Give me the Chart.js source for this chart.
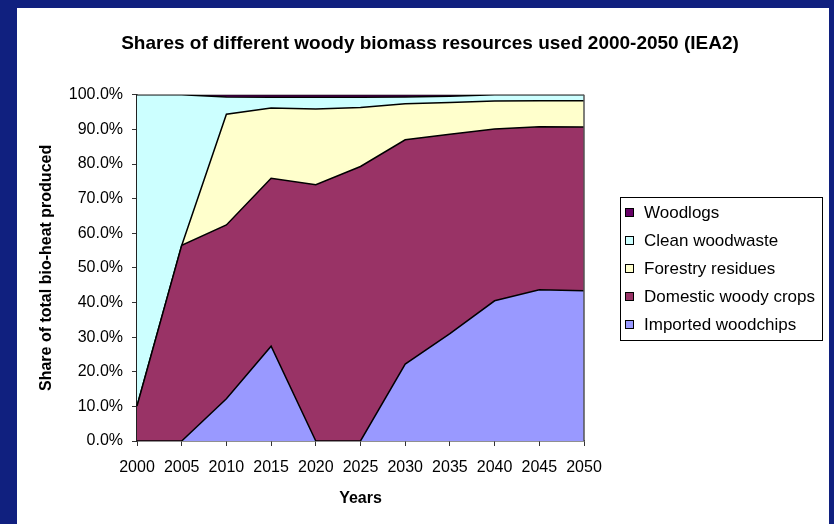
<!DOCTYPE html>
<html lang="en">
<head>
  <meta charset="UTF-8" />
  <title>Woody biomass shares</title>
  <script src="https://cdn.jsdelivr.net/npm/chart.js"></script>
  <style>
    html, body { margin: 0; padding: 0; }
    body { width: 834px; height: 524px; background: #10207f; position: relative; overflow: hidden; }
    .panel { position: absolute; left: 17px; top: 8px; width: 812px; height: 516px; background: #fff; }
  </style>
</head>
<body>
  <div class="panel">
    <canvas id="woodChart" width="812" height="516"></canvas>
  </div>

  <script>
    // values (percent of total bio-heat)
    const years = ["2000", "2005", "2010", "2015", "2020", "2025", "2030", "2035", "2040", "2045", "2050"];
    const importedWoodchips = [0, 0, 12.2, 27.4, 0, 0, 22.2, 31.0, 40.5, 43.7, 43.4];
    const domesticWoodyCrops = [10.1, 56.5, 50.2, 48.5, 74.0, 79.3, 64.8, 57.6, 49.6, 47.1, 47.3];
    const forestryResidues = [0, 0, 32.0, 20.3, 21.9, 17.0, 10.4, 9.2, 8.1, 7.5, 7.6];
    const cleanWoodwaste = [89.9, 43.5, 5.0, 3.1, 3.4, 3.0, 2.0, 1.8, 1.8, 1.7, 1.7];
    const woodlogs = [0, 0, 0.6, 0.7, 0.7, 0.7, 0.6, 0.4, 0, 0, 0];
    const yTicks = [0, 10, 20, 30, 40, 50, 60, 70, 80, 90, 100];

    const FONT = 'Arial, "Liberation Sans", sans-serif';

    function area(label, data, color, fill) {
      return {
        label: label,
        data: data,
        backgroundColor: color,
        borderColor: "#000",
        borderWidth: 1.5,
        pointRadius: 0,
        tension: 0,
        fill: fill
      };
    }

    // legend drawn as a boxed list to the right, top series first
    const boxLegend = {
      id: "boxLegend",
      afterDraw(chart) {
        const ctx = chart.ctx;
        const left = chart.chartArea.right + 36;
        const top = 189;
        const rowH = 28;
        const items = chart.data.datasets.slice().reverse();
        ctx.save();
        ctx.strokeStyle = "#000";
        ctx.lineWidth = 1;
        ctx.strokeRect(left + 0.5, top + 0.5, 202, rowH * items.length + 3);
        ctx.font = "17px " + FONT;
        ctx.textBaseline = "middle";
        items.forEach((ds, i) => {
          const cy = top + 15 + i * rowH;
          ctx.fillStyle = ds.backgroundColor;
          ctx.fillRect(left + 5, cy - 4, 9, 9);
          ctx.strokeRect(left + 5.5, cy - 3.5, 8, 8);
          ctx.fillStyle = "#000";
          ctx.fillText(ds.label, left + 24, cy + 1);
        });
        ctx.restore();
      }
    };

    const plotEdge = {
      id: "plotEdge",
      afterDatasetsDraw(chart) {
        const a = chart.chartArea;
        const ctx = chart.ctx;
        ctx.save();
        ctx.strokeStyle = "#555";
        ctx.lineWidth = 1.5;
        ctx.beginPath();
        ctx.moveTo(a.right, a.top);
        ctx.lineTo(a.right, a.bottom);
        ctx.stroke();
        ctx.restore();
      }
    };

    const ctx = document.getElementById("woodChart").getContext("2d");
    new Chart(ctx, {
      type: "line",
      data: {
        labels: years,
        datasets: [
          area("Imported woodchips", importedWoodchips, "#9999ff", "origin"),
          area("Domestic woody crops", domesticWoodyCrops, "#993366", "-1"),
          area("Forestry residues", forestryResidues, "#ffffcc", "-1"),
          area("Clean woodwaste", cleanWoodwaste, "#ccffff", "-1"),
          area("Woodlogs", woodlogs, "#660066", "-1")
        ]
      },
      options: {
        responsive: false,
        animation: false,
        layout: { padding: { left: 14, right: 0, top: 0, bottom: 0 } },
        plugins: {
          legend: { display: false },
          tooltip: { enabled: false },
          title: {
            display: true,
            text: "Shares of different woody biomass resources used 2000-2050 (IEA2)",
            color: "#000",
            font: { family: FONT, size: 19, weight: "bold" },
            padding: { top: 24, bottom: 40 }
          }
        },
        scales: {
          x: {
            offset: false,
            grid: { display: true, drawOnChartArea: false, drawTicks: true, tickLength: 5, color: "#333" },
            border: { display: true, color: "#222", width: 1.5 },
            ticks: { color: "#000", font: { family: FONT, size: 16 }, padding: 12, maxRotation: 0, autoSkip: false },
            title: { display: true, text: "Years", color: "#000", font: { family: FONT, size: 16, weight: "bold" }, padding: { top: 0, bottom: 16 } },
            afterFit(scale) { scale.height = 83; }
          },
          y: {
            stacked: true,
            min: 0,
            max: 100,
            afterBuildTicks(scale) { scale.ticks = yTicks.map(v => ({ value: v })); },
            grid: { display: true, drawOnChartArea: false, drawTicks: true, tickLength: 5, color: "#333" },
            border: { display: true, color: "#222", width: 1.5 },
            ticks: { color: "#000", font: { family: FONT, size: 16 }, padding: 9, callback: v => v.toFixed(1) + "%" },
            title: { display: true, text: "Share of total bio-heat produced", color: "#000", font: { family: FONT, size: 16, weight: "bold" }, padding: { top: 6, bottom: 0 } },
            afterFit(scale) { scale.width = 106; }
          },
          // empty right-hand axis that keeps room for the legend box
          legendRoom: {
            position: "right",
            display: true,
            grid: { display: false },
            border: { display: false },
            ticks: { display: false },
            afterFit(scale) { scale.width = 245; }
          }
        }
      },
      plugins: [plotEdge, boxLegend]
    });
  </script>
</body>
</html>
